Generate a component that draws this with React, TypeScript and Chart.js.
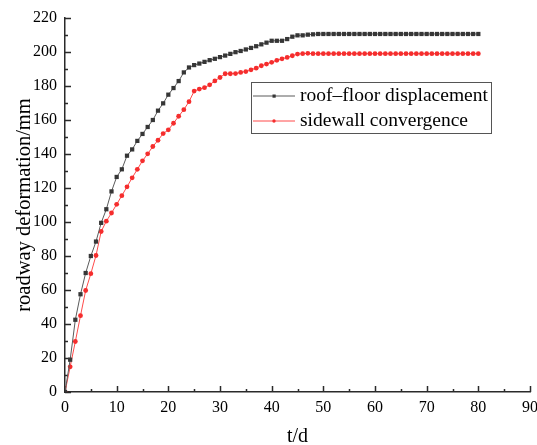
import React, { useEffect, useRef } from "react";
import { Chart, registerables } from "chart.js";

Chart.register(...registerables);

const days = [
  0, 1, 2, 3, 4, 5, 6, 7, 8, 9, 10, 11, 12, 13, 14, 15, 16, 17, 18, 19, 20,
  21, 22, 23, 24, 25, 26, 27, 28, 29, 30, 31, 32, 33, 34, 35, 36, 37, 38, 39, 40,
  41, 42, 43, 44, 45, 46, 47, 48, 49, 50, 51, 52, 53, 54, 55, 56, 57, 58, 59, 60,
  61, 62, 63, 64, 65, 66, 67, 68, 69, 70, 71, 72, 73, 74, 75, 76, 77, 78, 79, 80,
];

const roofFloorDisplacement = [
  0, 19, 42.5, 57.5, 70, 80, 88.5, 99.5, 107.5, 118, 126.5,
  131, 139, 142.7, 147.7, 151.8, 155.9, 160, 165.5, 169.8, 174.9,
  178.8, 182.9, 188, 190.9, 192.3, 193.2, 194.2, 195.2, 196, 197,
  197.9, 198.9, 199.9, 200.6, 201.5, 202.4, 203.4, 204.5, 205.5, 206.6,
  206.6, 206.6, 207.6, 209, 209.8, 209.8, 210.2, 210.4, 210.6, 210.6,
  210.6, 210.6, 210.6, 210.6, 210.6, 210.6, 210.6, 210.6, 210.6, 210.6,
  210.6, 210.6, 210.6, 210.6, 210.6, 210.6, 210.6, 210.6, 210.6, 210.6,
  210.6, 210.6, 210.6, 210.6, 210.6, 210.6, 210.6, 210.6, 210.6, 210.6,
];

const sidewallConvergence = [
  0, 14.8, 29.7, 44.9, 59.7, 69.6, 80.3, 94.4, 100.5, 105.3, 110.4,
  115.5, 120.7, 126, 131, 136, 140.1, 144.4, 148.1, 152, 154.2,
  158.1, 162.2, 166.1, 170.8, 177, 178.2, 179, 180.7, 183, 185,
  187.2, 187.2, 187.3, 188, 188.5, 189.5, 190.5, 191.9, 192.9, 193.9,
  195.1, 196, 196.8, 197.8, 198.8, 199, 199.2, 199, 199, 199,
  199, 199, 199, 199, 199, 199, 199, 199, 199, 199,
  199, 199, 199, 199, 199, 199, 199, 199, 199, 199,
  199, 199, 199, 199, 199, 199, 199, 199, 199, 199,
];

const seriesLabels = ["roof\u2013floor displacement", "sidewall convergence"];
const xAxisTitle = "t/d";
const yAxisTitle = "roadway deformation/mm";

const X_MIN = 0;
const X_MAX = 90;
const X_STEP = 10;
const Y_MIN = 0;
const Y_MAX = 220;
const Y_STEP = 20;

const SERIF = '"Liberation Serif", "Times New Roman", serif';
const AXIS_COLOR = "#2a2a2a";

const insideTicks = {
  id: "insideTicks",
  beforeDatasetsDraw(chart: any) {
    const { ctx, chartArea, scales } = chart;
    const xs = scales.x;
    const ys = scales.y;
    ctx.save();
    ctx.strokeStyle = AXIS_COLOR;
    ctx.lineWidth = 1.5;
    const majorLen = 6;
    const minorLen = 3;
    const xv = xs.ticks.map((t: any) => t.value);
    const yv = ys.ticks.map((t: any) => t.value);
    const xMinor: number[] = [];
    for (let i = 0; i < xv.length - 1; i++) xMinor.push((xv[i] + xv[i + 1]) / 2);
    const yMinor: number[] = [];
    for (let i = 0; i < yv.length - 1; i++) yMinor.push((yv[i] + yv[i + 1]) / 2);
    ctx.beginPath();
    const b = chartArea.bottom;
    const l = chartArea.left;
    xv.forEach((v: number) => {
      const p = Math.round(xs.getPixelForValue(v)) + 0.5;
      ctx.moveTo(p, b);
      ctx.lineTo(p, b - majorLen);
    });
    xMinor.forEach((v: number) => {
      const p = Math.round(xs.getPixelForValue(v)) + 0.5;
      ctx.moveTo(p, b);
      ctx.lineTo(p, b - minorLen);
    });
    yv.forEach((v: number) => {
      const p = Math.round(ys.getPixelForValue(v)) + 0.5;
      ctx.moveTo(l, p);
      ctx.lineTo(l + majorLen, p);
    });
    yMinor.forEach((v: number) => {
      const p = Math.round(ys.getPixelForValue(v)) + 0.5;
      ctx.moveTo(l, p);
      ctx.lineTo(l + minorLen, p);
    });
    ctx.stroke();
    ctx.restore();
  },
};

const boxLegend = {
  id: "boxLegend",
  afterDraw(chart: any) {
    const { ctx } = chart;
    const left = 251.5;
    const top = 82.5;
    const w = 240;
    const h = 51;
    ctx.save();
    ctx.fillStyle = "#ffffff";
    ctx.fillRect(left, top, w, h);
    ctx.strokeStyle = "#555555";
    ctx.lineWidth = 1;
    ctx.strokeRect(left, top, w, h);
    chart.data.datasets.forEach((ds: any, i: number) => {
      const cy = 96 + i * 25;
      ctx.strokeStyle = ds.borderColor;
      ctx.lineWidth = 1;
      ctx.beginPath();
      ctx.moveTo(253, cy);
      ctx.lineTo(295, cy);
      ctx.stroke();
      ctx.fillStyle = ds.pointBackgroundColor;
      if (ds.pointStyle === "rect") {
        ctx.fillRect(272.5, cy - 1.5, 3.2, 3.2);
      } else {
        ctx.beginPath();
        ctx.arc(274, cy, 1.7, 0, Math.PI * 2);
        ctx.fill();
      }
      ctx.fillStyle = "#000000";
      ctx.font = `19.5px ${SERIF}`;
      ctx.textAlign = "left";
      ctx.textBaseline = "middle";
      ctx.fillText(ds.label, 300, cy);
    });
    ctx.restore();
  },
};

export default function App() {
  const canvasRef = useRef<HTMLCanvasElement | null>(null);

  useEffect(() => {
    if (!canvasRef.current) return;
    const chart = new Chart(canvasRef.current, {
      type: "line",
      data: {
        datasets: [
          {
            label: seriesLabels[0],
            data: days.map((d, i) => ({ x: d, y: roofFloorDisplacement[i] })),
            borderColor: "#5a5a5a",
            borderWidth: 1,
            pointStyle: "rect",
            pointRadius: 3,
            pointBorderWidth: 0,
            pointBackgroundColor: "#363636",
            tension: 0,
          },
          {
            label: seriesLabels[1],
            data: days.map((d, i) => ({ x: d, y: sidewallConvergence[i] })),
            borderColor: "#ff4a4a",
            borderWidth: 1,
            pointStyle: "circle",
            pointRadius: 2.4,
            pointBorderWidth: 0,
            pointBackgroundColor: "#f52d2d",
            tension: 0,
          },
        ],
      },
      options: {
        animation: false,
        responsive: false,
        maintainAspectRatio: false,
        devicePixelRatio: 1,
        layout: { padding: { left: 0, right: 7, top: 18, bottom: 0 } },
        plugins: {
          legend: { display: false },
          tooltip: { enabled: false },
          title: { display: false },
        },
        scales: {
          x: {
            type: "linear",
            min: X_MIN,
            max: X_MAX,
            ticks: {
              stepSize: X_STEP,
              color: "#000",
              font: { family: SERIF, size: 16 },
              padding: 6,
              maxRotation: 0,
              autoSkip: false,
            },
            grid: { display: false, drawTicks: false },
            border: { display: true, color: AXIS_COLOR, width: 1.5 },
            title: {
              display: true,
              text: xAxisTitle,
              color: "#000",
              font: { family: SERIF, size: 20, lineHeight: 0.8 },
              padding: 0,
            },
            afterFit: (s: any) => {
              s.height = 53;
              s.paddingLeft = 0;
              s.paddingRight = 0;
            },
          },
          y: {
            type: "linear",
            min: Y_MIN,
            max: Y_MAX,
            ticks: {
              stepSize: Y_STEP,
              color: "#000",
              font: { family: SERIF, size: 16 },
              padding: 8,
            },
            grid: { display: false, drawTicks: false },
            border: { display: true, color: AXIS_COLOR, width: 1.5 },
            title: {
              display: true,
              text: yAxisTitle,
              color: "#000",
              font: { family: SERIF, size: 20.5, lineHeight: 1.2 },
              padding: { top: 12, bottom: 0 },
            },
            afterFit: (s: any) => {
              s.width = 65;
              s.paddingTop = 0;
              s.paddingBottom = 0;
            },
          },
        },
      },
      plugins: [insideTicks, boxLegend],
    });
    return () => chart.destroy();
  }, []);

  return (
    <div
      style={{
        position: "fixed",
        left: 0,
        top: 0,
        width: 537,
        height: 445,
        background: "#ffffff",
      }}
    >
      <canvas
        ref={canvasRef}
        width={537}
        height={445}
        style={{ width: 537, height: 445, display: "block" }}
      />
    </div>
  );
}
